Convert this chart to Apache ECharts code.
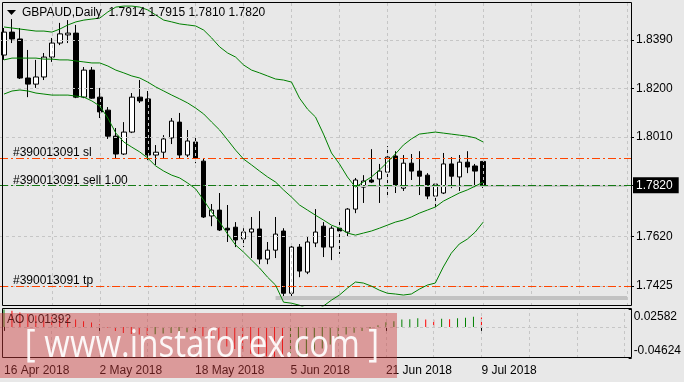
<!DOCTYPE html>
<html><head><meta charset="utf-8">
<script src="https://cdn.jsdelivr.net/npm/echarts@6/dist/echarts.min.js"></script>
<style>html,body{margin:0;padding:0;background:#e8e8e8}#c{width:684px;height:382px}</style>
</head><body><div id="c"></div>
<script>
const dates = ['16 Apr 2018','17 Apr 2018','18 Apr 2018','19 Apr 2018','20 Apr 2018','23 Apr 2018','24 Apr 2018','25 Apr 2018','26 Apr 2018','27 Apr 2018','30 Apr 2018',
'1 May 2018','2 May 2018','3 May 2018','4 May 2018','7 May 2018','8 May 2018','9 May 2018','10 May 2018','11 May 2018','14 May 2018','15 May 2018','16 May 2018','17 May 2018','18 May 2018','21 May 2018','22 May 2018','23 May 2018','24 May 2018','25 May 2018','28 May 2018','29 May 2018','30 May 2018','31 May 2018',
'1 Jun 2018','4 Jun 2018','5 Jun 2018','6 Jun 2018','7 Jun 2018','8 Jun 2018','11 Jun 2018','12 Jun 2018','13 Jun 2018','14 Jun 2018','15 Jun 2018','18 Jun 2018','19 Jun 2018','20 Jun 2018','21 Jun 2018','22 Jun 2018','25 Jun 2018','26 Jun 2018','27 Jun 2018','28 Jun 2018','29 Jun 2018',
'2 Jul 2018','3 Jul 2018','4 Jul 2018','5 Jul 2018','6 Jul 2018','9 Jul 2018'];

const open  = [1.8331,1.8421,1.8394,1.8241,1.8217,1.8245,1.8323,1.8378,1.8410,1.8417,1.8166,1.8272,1.8166,1.8115,1.8013,1.7943,1.8029,1.8166,1.8159,1.7939,1.7950,1.8006,1.8068,1.7939,1.7990,1.7915,1.7700,1.7723,1.7652,1.7656,1.7610,1.7637,1.7649,1.7531,1.7566,1.7641,1.7397,1.7578,1.7480,1.7594,1.7660,1.7578,1.7652,1.7637,1.7727,1.7813,1.7841,1.7845,1.7872,1.7935,1.7809,1.7907,1.7876,1.7860,1.7778,1.7790,1.7904,1.7853,1.7911,1.7896,1.7914];
const close = [1.8421,1.8394,1.8241,1.8217,1.8245,1.8323,1.8378,1.8414,1.8417,1.8166,1.8272,1.8162,1.8108,1.8013,1.7943,1.8029,1.8166,1.8151,1.7939,1.7950,1.8002,1.8072,1.7939,1.7994,1.7927,1.7696,1.7723,1.7645,1.7645,1.7606,1.7637,1.7649,1.7531,1.7566,1.7629,1.7397,1.7578,1.7484,1.7598,1.7637,1.7578,1.7652,1.7641,1.7727,1.7841,1.7837,1.7833,1.7876,1.7931,1.7821,1.7907,1.7876,1.7856,1.7778,1.7825,1.7904,1.7856,1.7911,1.7892,1.7876,1.7820];
const low   = [1.8312,1.8378,1.8237,1.8166,1.8202,1.8233,1.8304,1.8370,1.8378,1.8162,1.8162,1.8159,1.8084,1.8002,1.7927,1.7939,1.8025,1.8143,1.7919,1.7900,1.7927,1.7982,1.7927,1.7931,1.7907,1.7692,1.7660,1.7641,1.7598,1.7578,1.7578,1.7535,1.7511,1.7511,1.7535,1.7382,1.7378,1.7460,1.7472,1.7578,1.7539,1.7527,1.7551,1.7621,1.7711,1.7751,1.7829,1.7751,1.7778,1.7790,1.7798,1.7841,1.7782,1.7766,1.7727,1.7786,1.7809,1.7798,1.7868,1.7813,1.7810];
const high  = [1.8437,1.8472,1.8437,1.8351,1.8312,1.8339,1.8398,1.8457,1.8468,1.8449,1.8284,1.8284,1.8202,1.8127,1.8045,1.8068,1.8182,1.8233,1.8190,1.7978,1.8017,1.8084,1.8104,1.8037,1.8006,1.7927,1.7747,1.7790,1.7743,1.7676,1.7652,1.7696,1.7719,1.7598,1.7696,1.7652,1.7590,1.7590,1.7621,1.7727,1.7676,1.7660,1.7688,1.7731,1.7849,1.7860,1.7962,1.7904,1.7974,1.7954,1.7939,1.7943,1.7954,1.7868,1.7829,1.7947,1.7931,1.7939,1.7954,1.7904,1.7915];

const bbUpper  = [1.8441,1.8437,1.8433,1.8429,1.8425,1.8425,1.8421,1.8433,1.8449,1.8461,1.8468,1.8472,1.8476,1.8500,1.8519,1.8523,1.8523,1.8519,1.8508,1.8488,1.8468,1.8461,1.8453,1.8449,1.8445,1.8429,1.8398,1.8363,1.8339,1.8323,1.8292,1.8272,1.8261,1.8249,1.8237,1.8233,1.8225,1.8162,1.8119,1.8088,1.8021,1.7947,1.7904,1.7853,1.7813,1.7833,1.7853,1.7880,1.7911,1.7943,1.7978,1.8002,1.8021,1.8025,1.8029,1.8025,1.8021,1.8017,1.8013,1.8006,1.7990];
const bbMiddle = [1.8312,1.8319,1.8319,1.8319,1.8319,1.8315,1.8315,1.8312,1.8312,1.8308,1.8304,1.8300,1.8300,1.8288,1.8272,1.8261,1.8249,1.8241,1.8225,1.8206,1.8190,1.8174,1.8159,1.8143,1.8123,1.8100,1.8068,1.8037,1.7998,1.7958,1.7923,1.7900,1.7876,1.7853,1.7833,1.7802,1.7774,1.7743,1.7723,1.7703,1.7684,1.7664,1.7652,1.7633,1.7625,1.7633,1.7641,1.7652,1.7664,1.7676,1.7684,1.7696,1.7711,1.7723,1.7735,1.7758,1.7774,1.7790,1.7802,1.7817,1.7833];
const bbLower  = [1.8178,1.8190,1.8194,1.8190,1.8182,1.8178,1.8174,1.8174,1.8174,1.8170,1.8166,1.8151,1.8131,1.8084,1.8025,1.7990,1.7970,1.7951,1.7927,1.7896,1.7876,1.7860,1.7849,1.7829,1.7806,1.7762,1.7715,1.7676,1.7629,1.7586,1.7558,1.7527,1.7496,1.7460,1.7429,1.7362,1.7358,1.7350,1.7335,1.7331,1.7347,1.7370,1.7390,1.7417,1.7441,1.7437,1.7425,1.7409,1.7397,1.7394,1.7390,1.7394,1.7413,1.7429,1.7437,1.7500,1.7554,1.7590,1.7609,1.7637,1.7676];

const ao = [0.0258,0.0240,0.0215,0.0190,0.0170,0.0155,0.0150,0.0145,0.0135,0.0110,0.0085,0.0065,0.0040,-0.0010,-0.0060,-0.0090,-0.0105,-0.0115,-0.0120,-0.0110,-0.0100,-0.0090,-0.0085,-0.0080,-0.0095,-0.0140,-0.0190,-0.0240,-0.0290,-0.0330,-0.0370,-0.0400,-0.0425,-0.0440,-0.0450,-0.0462,-0.0455,-0.0440,-0.0410,-0.0370,-0.0320,-0.0260,-0.0190,-0.0115,-0.0089,-0.0063,-0.0020,0.0026,0.0068,0.0084,0.0110,0.0112,0.0130,0.0110,0.0105,0.0120,0.0115,0.0130,0.0136,0.0150,0.01392];

const priceTicks = [1.8390, 1.8200, 1.8010, 1.7820, 1.7620, 1.7425];
const aoTicks = [0.02582, 0, -0.04624];
const orderLevels = { sl: 1.7927, sell: 1.7820, tp: 1.7425 };
const orderId = '#390013091';
const supportLevel = 1.7378;
const futureSlots = 18;
const labelEvery = 12;
const gridEvery = 6;

const FONT = '"Liberation Sans", Arial, sans-serif';
const chart = echarts.init(document.getElementById('c'));
const cats = dates.concat(Array.from({length: futureSlots}, (_, k) => 'f' + k));
const last = dates.length - 1;
const endIdx = cats.length - 1;
const ohlc = open.map((o, i) => [o, close[i], low[i], high[i]]);
const labelInterval = (idx) => idx % labelEvery === 0 && idx <= last;
const vGrid = [];
for (let i = gridEvery; i < cats.length; i += gridEvery) vGrid.push(i);
const gridLine = { color: '#c6c6c6', type: [3, 3], width: 1 };
const dashDot = [8, 3, 2, 3];

const aoData = ao.map((v, i) => ({
  value: v,
  itemStyle: { color: (i > 0 && v < ao[i - 1]) ? '#ff0000' : '#008000' }
}));

const bandSeries = (data) => ({
  type: 'line', xAxisIndex: 0, yAxisIndex: 0, data, symbol: 'none', z: 6,
  lineStyle: { color: '#008000', width: 1 }, silent: true
});

const orderLine = (value, color, text) => ({
  yAxis: value, lineStyle: { color, width: 1, type: dashDot },
  label: { show: true, position: 'insideStartTop', formatter: text, color: '#000', fontSize: 12, fontFamily: FONT, distance: [13, -1] }
});

const option = {
  animation: false,
  backgroundColor: '#e8e8e8',
  grid: [
    { left: -1, top: 2, width: 632, height: 304 },
    { left: -1, top: 309.5, width: 632, height: 48.5 }
  ],
  xAxis: [
    { type: 'category', gridIndex: 0, data: cats, boundaryGap: true, show: false },
    { type: 'category', gridIndex: 1, data: cats, boundaryGap: true,
      axisLine: { show: false },
      axisTick: { show: true, alignWithLabel: true, interval: labelInterval, length: 4, lineStyle: { color: '#000' } },
      axisLabel: { interval: labelInterval, align: 'left', color: '#000', fontSize: 12, fontFamily: FONT, margin: 7 },
      splitLine: { show: false } }
  ],
  yAxis: [
    { type: 'value', gridIndex: 0, position: 'right', min: 1.7347, max: 1.8539,
      axisLine: { show: false },
      axisTick: { show: true, length: 3, customValues: priceTicks, lineStyle: { color: '#000' } },
      axisLabel: { customValues: priceTicks, margin: 2, fontSize: 12, fontFamily: FONT, showMinLabel: true, showMaxLabel: true,
        formatter: (v) => {
          const s = v.toFixed(4);
          return Math.abs(v - close[last]) < 1e-7 ? '{hl|' + s + '}' : '{n|' + s + '}';
        },
        rich: {
          n: { color: '#000', fontSize: 12, fontFamily: FONT, padding: [2, 6, 2, 3] },
          hl: { color: '#fff', backgroundColor: '#000', fontSize: 12, fontFamily: FONT, padding: [2, 6, 2, 3] }
        } },
      splitLine: { show: false } },
    { type: 'value', gridIndex: 1, position: 'right', min: aoTicks[2], max: aoTicks[0],
      axisLine: { show: false },
      axisTick: { show: true, length: 3, customValues: aoTicks, lineStyle: { color: '#000' } },
      axisLabel: { customValues: aoTicks, margin: 5, fontSize: 12, fontFamily: FONT, showMinLabel: true, showMaxLabel: true, hideOverlap: false,
        formatter: (v) => v === 0 ? '{z|0.00}' : (v > 0 ? '{t|' + v.toFixed(5) + '}' : '{b|' + v.toFixed(5) + '}'),
        rich: {
          z: { color: '#000', fontSize: 12, fontFamily: FONT },
          t: { color: '#000', fontSize: 12, fontFamily: FONT, padding: [15, 0, 0, 0] },
          b: { color: '#000', fontSize: 12, fontFamily: FONT, padding: [0, 0, 14, 0] }
        } },
      splitLine: { show: false } }
  ],
  series: [
    { type: 'line', name: 'grid', xAxisIndex: 0, yAxisIndex: 0, data: [], z: 1, silent: true,
      markLine: { silent: true, symbol: ['none', 'none'], animation: false, precision: 5, label: { show: false },
        lineStyle: gridLine,
        data: vGrid.map(i => ({ xAxis: i })).concat(priceTicks.map(v => ({ yAxis: v }))) } },
    { type: 'line', name: 'aogrid', xAxisIndex: 1, yAxisIndex: 1, data: [], z: 1, silent: true,
      markLine: { silent: true, symbol: ['none', 'none'], animation: false, precision: 5, label: { show: false },
        lineStyle: gridLine,
        data: vGrid.map(i => ({ xAxis: i })).concat([{ yAxis: 0 }]) } },
    { type: 'line', name: 'orders', xAxisIndex: 0, yAxisIndex: 0, data: [], z: 3, silent: true,
      markLine: { silent: true, symbol: ['none', 'none'], animation: false, precision: 5,
        data: [
          [{ coord: [34, supportLevel], lineStyle: { color: '#c2c2c2', width: 4, type: 'solid' }, label: { show: false } }, { coord: [endIdx, supportLevel] }],
          [{ coord: [44, close[last] - 0.0003], lineStyle: { color: '#c8c8c8', width: 2, type: 'solid' }, label: { show: false } }, { coord: [endIdx, close[last] - 0.0003] }],
          orderLine(orderLevels.sl, '#ff4500', orderId + ' sl'),
          orderLine(orderLevels.sell, '#157a15', orderId + ' sell 1.00'),
          orderLine(orderLevels.tp, '#ff4500', orderId + ' tp')
        ] } },
    { type: 'candlestick', xAxisIndex: 0, yAxisIndex: 0, data: ohlc, barWidth: 5, z: 4, silent: true,
      itemStyle: { color: '#ffffff', color0: '#000000', borderColor: '#000000', borderColor0: '#000000', borderWidth: 1 } },
    bandSeries(bbUpper),
    bandSeries(bbMiddle),
    bandSeries(bbLower),
    { type: 'bar', xAxisIndex: 1, yAxisIndex: 1, data: aoData, barWidth: 1, silent: true, z: 4 }
  ],
  graphic: [
    { type: 'rect', z: 50, silent: true, shape: { x: 2.5, y: 2.5, width: 629, height: 303 }, style: { fill: null, stroke: '#000', lineWidth: 1 } },
    { type: 'rect', z: 50, silent: true, shape: { x: 2.5, y: 308.5, width: 629, height: 49 }, style: { fill: null, stroke: '#000', lineWidth: 1 } },
    { type: 'polygon', z: 50, silent: true, shape: { points: [[7, 10], [16, 10], [11.5, 15]] }, style: { fill: '#000' } },
    { type: 'text', z: 50, silent: true, style: { x: 22, y: 13, text: 'GBPAUD,Daily  ' + [open[last], high[last], low[last], close[last]].map(v => v.toFixed(4)).join(' '),
        font: '12px ' + FONT, fill: '#000', verticalAlign: 'middle' } },
    { type: 'text', z: 50, silent: true, style: { x: 7, y: 320, text: 'AO ' + ao[last].toFixed(5), font: '12px ' + FONT, fill: '#000', verticalAlign: 'middle' } },
    { type: 'rect', z: 60, silent: true, shape: { x: 0, y: 313, width: 397, height: 65 }, style: { fill: 'rgba(205,60,60,0.45)' } },
    { type: 'text', z: 61, silent: true, x: 202, y: 346, scaleX: 0.87, style: { x: 0, y: 0, text: '[ www.instaforex.com ]', font: '38px "Open Sans", sans-serif', fill: 'rgba(255,255,255,0.92)', align: 'center', verticalAlign: 'middle' } }
  ]
};
chart.setOption(option);
</script></body></html>
